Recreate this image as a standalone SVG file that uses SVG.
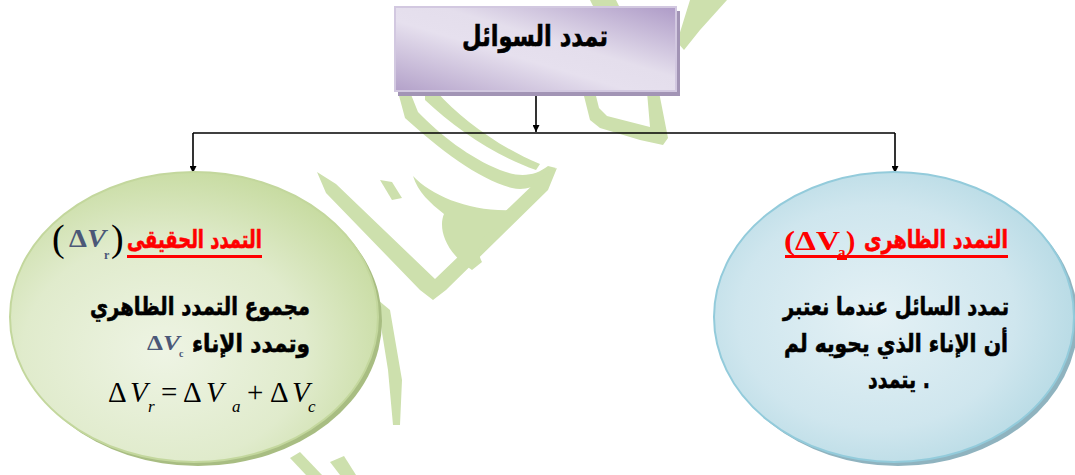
<svg xmlns="http://www.w3.org/2000/svg" width="1075" height="475" viewBox="0 0 1075 475">
<style>
.ar{font-family:"DejaVu Sans",sans-serif;font-weight:bold;stroke-width:0.5;}
.body{font-size:20.5px;fill:#000;stroke:#000;}
.ttl{font-size:21px;fill:#ff0000;stroke:#ff0000;}
.conn{stroke:#000;stroke-width:1.6;fill:none;}
.wm{fill:#cde0ad;}
.math{font-family:"Liberation Serif",serif;fill:#000;}
.eq{font-size:29px;}
.sub{font-size:17px;font-style:italic;}
.dv{font-family:"Liberation Serif",serif;font-weight:bold;fill:#4b5878;}
.red{font-family:"Liberation Serif",serif;font-weight:bold;fill:#ff0000;}
</style>
<defs>
<marker id="ah" viewBox="0 0 10 10" refX="10" refY="5" markerWidth="7" markerHeight="7" markerUnits="userSpaceOnUse" orient="auto">
<path d="M0,0 L10,5 L0,10 Z" fill="#000"/>
</marker>
<linearGradient id="gBox" x1="0" y1="1" x2="1" y2="0">
<stop offset="0" stop-color="#b3a1c9"/>
<stop offset="0.42" stop-color="#e6e0ee"/>
<stop offset="0.58" stop-color="#e4deec"/>
<stop offset="1" stop-color="#ae9bc7"/>
</linearGradient>
<radialGradient id="gGreen" cx="0.42" cy="0.62" r="0.7">
<stop offset="0" stop-color="#eef4e4"/>
<stop offset="0.55" stop-color="#e0ebcc"/>
<stop offset="1" stop-color="#c2d898"/>
</radialGradient>
<radialGradient id="gBlue" cx="0.45" cy="0.5" r="0.7">
<stop offset="0" stop-color="#e4f1f5"/>
<stop offset="0.55" stop-color="#cfe6ee"/>
<stop offset="1" stop-color="#a6d2de"/>
</radialGradient>
</defs>

<g id="watermark">
<polygon class="wm" points="690,0 727,0 700,30 684,50 677,42"/>
<polygon class="wm" points="590,0 616,0 619,6 593,6"/>
<polygon class="wm" points="583,92 595,92 599,108 607,116 650,127 647,92 659,92 668,138 663,145 640,140 600,128 590,120"/>
<path class="wm" d="M398,92 L410,92 L418,112 C440,135 470,158 500,170 C520,178 535,176 548,166 L556,168 C548,182 530,192 512,188 C480,180 440,150 405,118 Z"/>
<path class="wm" d="M425,92 L437,92 C460,118 500,148 540,164 L536,170 C495,156 455,128 425,100 Z"/>
<polygon class="wm" points="317,172 336,184 435,279 540,178 557,168 548,190 446,290 433,300 420,290 326,193"/>
<path class="wm" d="M413,176 C432,196 470,212 513,210 L508,222 C488,230 472,242 482,262 L472,270 C445,252 438,228 444,214 C430,203 418,192 413,176 Z"/>
<polygon class="wm" points="380,180 392,182 402,198 392,200"/>
<polygon class="wm" points="378,300 390,310 402,380 400,425 393,425 388,370 380,320"/>
<polygon class="wm" points="290,458 300,452 322,475 306,475"/>
<polygon class="wm" points="330,462 344,456 356,475 340,475"/>
</g>

<g id="connectors">
<line class="conn" x1="536" y1="92" x2="536" y2="132" marker-end="url(#ah)"/>
<line class="conn" x1="193" y1="133" x2="895" y2="133"/>
<line class="conn" x1="193" y1="133" x2="193" y2="173" marker-end="url(#ah)"/>
<line class="conn" x1="895" y1="133" x2="895" y2="173" marker-end="url(#ah)"/>
</g>

<g id="node-top">
<rect x="398" y="11" width="282" height="85" fill="#a294b5"/>
<rect x="395" y="7" width="281" height="84" fill="url(#gBox)" stroke="#d2c8e0" stroke-width="2"/>
<text class="ar" x="535" y="46" font-size="24" text-anchor="middle" fill="#000" stroke="#000" transform="matrix(1,0,0,1.2,0,-9.2)" textLength="146" lengthAdjust="spacingAndGlyphs">تمدد السوائل</text>
</g>

<g id="node-real">
<ellipse cx="198" cy="321" rx="184" ry="145" fill="#a8bd82"/>
<ellipse cx="194" cy="317" rx="184" ry="145" fill="url(#gGreen)" stroke="#c3d79d" stroke-width="2"/>
<text class="ar ttl" x="262" y="248" text-anchor="end" transform="matrix(1,0,0,1.2,0,-49.6)" textLength="135" lengthAdjust="spacingAndGlyphs">التمدد الحقيقى</text>
<rect x="127" y="255" width="135" height="3" fill="#ff0000"/>
<text class="math" x="52" y="251" font-size="38">(</text>
<text class="dv" x="69" y="247" font-size="26" textLength="37" lengthAdjust="spacingAndGlyphs">Δ<tspan font-style="italic">V</tspan></text>
<text class="dv" x="104" y="259" font-size="12" fill="#b07a3a">r</text>
<text class="math" x="111" y="251" font-size="38">)</text>
<text class="ar body" x="310" y="315" text-anchor="end" transform="matrix(1,0,0,1.2,0,-63)" textLength="220" lengthAdjust="spacingAndGlyphs">مجموع التمدد الظاهري</text>
<text class="ar body" x="310" y="352" text-anchor="end" transform="matrix(1,0,0,1.2,0,-70.4)" textLength="118" lengthAdjust="spacingAndGlyphs">وتمدد الإناء</text>
<text class="dv" x="147" y="350" font-size="22" textLength="33" lengthAdjust="spacingAndGlyphs">Δ<tspan font-style="italic">V</tspan></text>
<text class="dv" x="179" y="357" font-size="10" fill="#333">c</text>
<text class="math eq" x="108" y="402">Δ</text>
<text class="math eq" x="130" y="402" font-style="italic">V</text>
<text class="math sub" x="148" y="412">r</text>
<text class="math eq" x="161" y="402">=</text>
<text class="math eq" x="183" y="402">Δ</text>
<text class="math eq" x="206" y="402" font-style="italic">V</text>
<text class="math sub" x="232" y="412">a</text>
<text class="math eq" x="247" y="402">+</text>
<text class="math eq" x="270" y="402">Δ</text>
<text class="math eq" x="292" y="402" font-style="italic">V</text>
<text class="math sub" x="308" y="412">c</text>
</g>

<g id="node-apparent">
<ellipse cx="898" cy="321" rx="180" ry="145" fill="#8fb3bf"/>
<ellipse cx="894" cy="317" rx="180" ry="145" fill="url(#gBlue)" stroke="#93cbdb" stroke-width="2"/>
<text class="ar ttl" x="1008" y="248" text-anchor="end" transform="matrix(1,0,0,1.2,0,-49.6)" textLength="144" lengthAdjust="spacingAndGlyphs">التمدد الظاهرى</text>
<text class="red" x="784" y="250" font-size="28" textLength="56" lengthAdjust="spacingAndGlyphs">(ΔV</text>
<text class="red" x="838" y="257" font-size="15">a</text>
<text class="red" x="846" y="250" font-size="28">)</text>
<rect x="785" y="255" width="223" height="3" fill="#ff0000"/>
<rect x="837" y="258" width="10" height="2" fill="#ff0000"/>
<text class="ar body" x="896" y="315" text-anchor="middle" transform="matrix(1,0,0,1.2,0,-63)" textLength="226" lengthAdjust="spacingAndGlyphs">تمدد السائل عندما نعتبر</text>
<text class="ar body" x="896" y="352" text-anchor="middle" transform="matrix(1,0,0,1.2,0,-70.4)" textLength="224" lengthAdjust="spacingAndGlyphs">أن الإناء الذي يحويه لم</text>
<text class="ar body" x="899" y="388" text-anchor="middle" transform="matrix(1,0,0,1.2,0,-77.6)" textLength="62" lengthAdjust="spacingAndGlyphs">يتمدد .</text>
</g>
</svg>
